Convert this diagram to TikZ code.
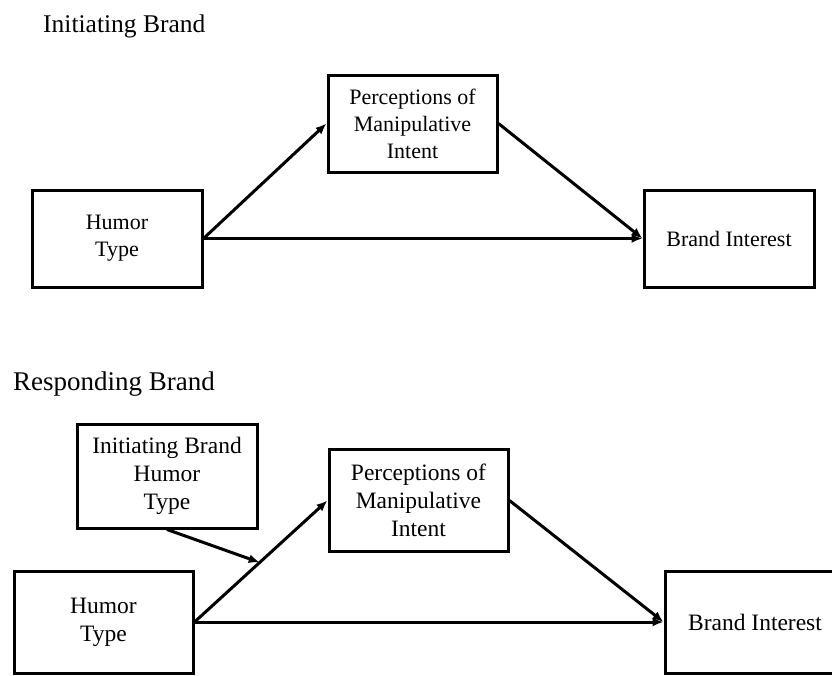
\documentclass[tikz,border=0pt]{standalone}
\usepackage{fontspec}
\setmainfont{Liberation Serif}
\usetikzlibrary{arrows.meta,calc}
\begin{document}
\begin{tikzpicture}[x=1pt,y=-1pt,
  box/.style={draw,line width=3pt,inner sep=0pt,align=center},
  topbox/.style={box,minimum width=170pt,minimum height=97pt,font=\fontsize{22}{27}\selectfont},
  botbox/.style={box,minimum width=179pt,minimum height=102pt,font=\fontsize{23.5}{28}\selectfont},
  link/.style={line width=3pt,-{Latex[length=11pt,width=9pt]}},
  title/.style={anchor=base west,inner sep=0pt}]
\clip (0,0) rectangle (832,675);
% top: Initiating Brand
\node[title,font=\fontsize{25.5}{30}\selectfont] (t1) at (43,32) {Initiating Brand};
\node[topbox,minimum width=169pt] (p1) at (412.5,123.5) {Perceptions of\\Manipulative\\Intent};
\node[topbox] (h1) at (117,238.5) {Humor\\Type};
\node[topbox] (b1) at (729,238.5) {Brand Interest};
\draw[link] (h1.east) -- (p1.west);
\draw[link] (h1.east) -- (b1.west);
\draw[link] (p1.east) -- (b1.west);
% bottom: Responding Brand
\node[title,font=\fontsize{27}{32}\selectfont] (t2) at (13,390) {Responding Brand};
\node[botbox,minimum width=180pt,minimum height=104pt] (m) at (167,476) {Initiating Brand\\Humor\\Type};
\node[botbox] (p2) at (418.5,500.5) {Perceptions of\\Manipulative\\Intent};
\node[botbox] (h2) at (103.5,622) {Humor\\Type};
\node[botbox,minimum width=180pt] (b2) at (755,622) {Brand Interest};
\draw[link] (h2.east) -- (p2.west);
\draw[link] (h2.east) -- (b2.west);
\draw[link] (p2.east) -- (b2.west);
\coordinate (mid) at ($(h2.east)!0.49!(p2.west)$);
\draw[link] (m.south) -- (mid);
\end{tikzpicture}
\end{document}
